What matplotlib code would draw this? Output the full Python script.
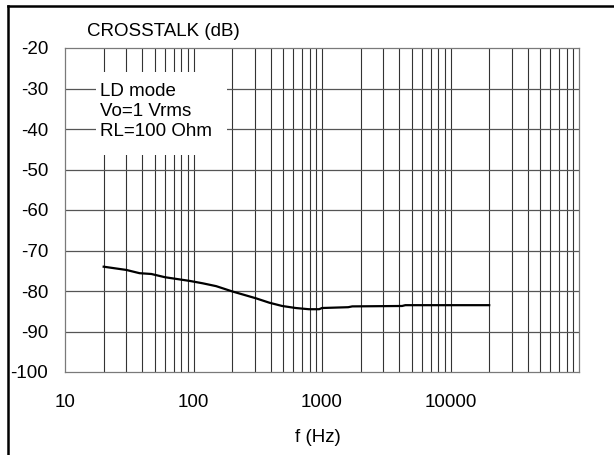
import numpy as np
import matplotlib
matplotlib.use("Agg")
import matplotlib.pyplot as plt
from matplotlib.lines import Line2D
from matplotlib.patches import Rectangle
from matplotlib.ticker import FixedLocator, NullFormatter, FixedFormatter

# ---- data ----
freq_hz = [20, 30, 38, 47, 60, 93, 118, 150, 200, 306, 390, 490, 625, 790,
           950, 1000, 1600, 1720, 4200, 4450, 20000]
crosstalk_db = [-74.0, -74.8, -75.6, -75.8, -76.6, -77.5, -78.1, -78.8, -80.1,
                -81.8, -82.9, -83.7, -84.2, -84.5, -84.5, -84.2, -84.0, -83.8,
                -83.7, -83.5, -83.5]
x_ticks = [10, 100, 1000, 10000]
x_tick_labels = ["10", "100", "1000", "10000"]
y_ticks = [-20, -30, -40, -50, -60, -70, -80, -90, -100]
y_tick_labels = ["-20", "-30", "-40", "-50", "-60", "-70", "-80", "-90", "-100"]
annotation_lines = ["LD mode", "Vo=1 Vrms", "RL=100 Ohm"]

plt.rcParams['font.family'] = ['Liberation Sans', 'DejaVu Sans']
FS = 13.5

W, H = 614, 455
fig = plt.figure(figsize=(W / 100, H / 100), dpi=100)
L, R, T, B = 65, 579, 48, 372
ax = fig.add_axes([L / W, 1 - B / H, (R - L) / W, (B - T) / H])

ax.set_xscale('log')
ax.set_xlim(10, 100000)
ax.set_ylim(-100, -20)

# grid
vlines = []
for dec in [10, 100, 1000, 10000]:
    for m in range(1, 10):
        vlines.append(dec * m)
for v in vlines[1:]:
    ax.axvline(v, color='#333333', lw=0.8, zorder=1)
for yv in y_ticks[1:-1]:
    ax.axhline(yv, color='#555555', lw=0.9, zorder=1)

for s in ax.spines.values():
    s.set_color('#7a7a7a')
    s.set_linewidth(0.9)

ax.xaxis.set_major_locator(FixedLocator(x_ticks))
ax.xaxis.set_major_formatter(FixedFormatter(x_tick_labels))
ax.xaxis.set_minor_locator(FixedLocator([]))
ax.xaxis.set_minor_formatter(NullFormatter())
ax.yaxis.set_major_locator(FixedLocator(y_ticks))
ax.yaxis.set_major_formatter(FixedFormatter(y_tick_labels))
ax.tick_params(axis='x', length=0, pad=16, labelsize=FS)
ax.tick_params(axis='y', length=0, pad=12, labelsize=FS)

# annotation box
ax.add_patch(Rectangle((0.0603, 0.670), 0.2543, 0.257, transform=ax.transAxes,
                       facecolor='white', edgecolor='none', zorder=2))
for i, t in enumerate(annotation_lines):
    ypix = 92 + 20 * i
    ax.text((100 - L) / (R - L), (B - ypix) / (B - T), t, transform=ax.transAxes,
            ha='left', va='center', fontsize=FS, zorder=3)

ax.plot(freq_hz, crosstalk_db, color='black', lw=1.6, zorder=4)

fig.text(87 / W, 1 - 32 / H, "CROSSTALK (dB)", ha='left', va='center', fontsize=FS)
fig.text(318 / W, 1 - 437 / H, "f (Hz)", ha='center', va='center', fontsize=FS)

# figure border (top and left)
fig.add_artist(Line2D([8 / W, 1], [1 - 6 / H, 1 - 6 / H], transform=fig.transFigure,
                      color='black', lw=1.8))
fig.add_artist(Line2D([8 / W, 8 / W], [0, 1 - 6 / H], transform=fig.transFigure,
                      color='black', lw=1.8))

fig.savefig('out.png', dpi=100)
